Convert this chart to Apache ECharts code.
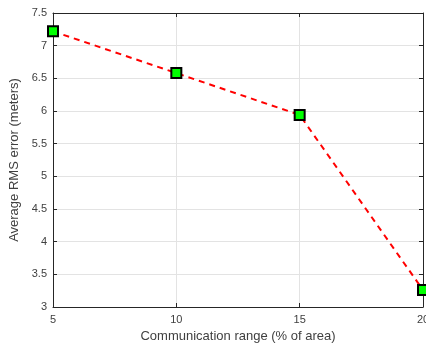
<!DOCTYPE html>
<html>
<head>
<meta charset="utf-8">
<script src="https://cdn.jsdelivr.net/npm/echarts@6/dist/echarts.min.js"></script>
<style>
  html, body { margin: 0; padding: 0; background: #fff; }
  #chart { width: 426px; height: 343px; }
</style>
</head>
<body>
<div id="chart"></div>
<script>
// Communication range (% of area) vs. average RMS localisation error
const ranges = [5, 10, 15, 20];
const rmsError = [7.22, 6.58, 5.94, 3.26];
const xTicks = [5, 10, 15, 20];
const yTicks = [3, 3.5, 4, 4.5, 5, 5.5, 6, 6.5, 7, 7.5];

const axisColor = '#262626';
const labelColor = '#404040';
const font = 'Liberation Sans, Arial, sans-serif';

const chart = echarts.init(document.getElementById('chart'), null, { renderer: 'canvas' });

const baseX = {
  type: 'value',
  min: xTicks[0],
  max: xTicks[xTicks.length - 1],
  interval: 5,
  axisLine: { show: true, onZero: false, lineStyle: { color: axisColor, width: 1 } },
  axisTick: { show: true, inside: true, length: 4, lineStyle: { color: axisColor } }
};
const baseY = {
  type: 'value',
  min: yTicks[0],
  max: yTicks[yTicks.length - 1],
  interval: 0.5,
  axisLine: { show: true, onZero: false, lineStyle: { color: axisColor, width: 1 } },
  axisTick: { show: true, inside: true, length: 4, lineStyle: { color: axisColor } }
};

chart.setOption({
  animation: false,
  backgroundColor: '#fff',
  grid: { left: 53, right: 3, top: 13, bottom: 36, containLabel: false, outerBoundsMode: 'none' },
  xAxis: [
    Object.assign({}, baseX, {
      position: 'bottom',
      name: 'Communication range (% of area)',
      nameLocation: 'middle',
      nameGap: 20,
      nameTextStyle: { color: labelColor, fontSize: 13, fontFamily: font },
      axisLabel: { color: labelColor, fontSize: 11, fontFamily: font, margin: 7,
                   formatter: v => String(v) },
      splitLine: { show: true, lineStyle: { color: '#e3e3e3', width: 1 } }
    }),
    Object.assign({}, baseX, {
      position: 'top',
      axisLabel: { show: false },
      splitLine: { show: false }
    })
  ],
  yAxis: [
    Object.assign({}, baseY, {
      position: 'left',
      name: 'Average RMS error (meters)',
      nameLocation: 'middle',
      nameGap: 25,
      nameTextStyle: { color: labelColor, fontSize: 13, fontFamily: font },
      axisLabel: { color: labelColor, fontSize: 11, fontFamily: font, margin: 6,
                   formatter: v => String(v) },
      splitLine: { show: true, lineStyle: { color: '#e3e3e3', width: 1 } }
    }),
    Object.assign({}, baseY, {
      position: 'right',
      axisLabel: { show: false },
      splitLine: { show: false }
    })
  ],
  series: [{
    type: 'line',
    data: ranges.map((r, i) => [r, rmsError[i]]),
    clip: false,
    symbol: 'rect',
    symbolSize: 10,
    itemStyle: { color: '#00ff00', borderColor: '#000', borderWidth: 2 },
    lineStyle: { color: '#ff0000', width: 2, type: [6, 5] },
    z: 3
  }]
});
</script>
</body>
</html>
